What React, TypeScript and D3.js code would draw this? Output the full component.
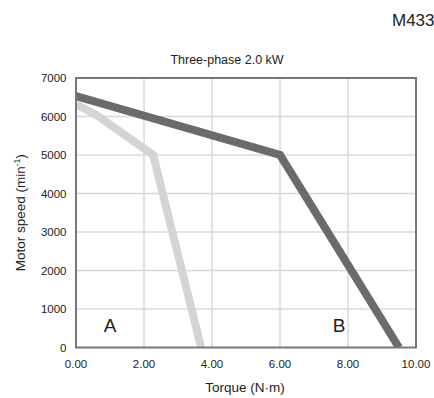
import React from "react";
import * as d3 from "d3";

const xTicks = [0, 2, 4, 6, 8, 10];
const yTicks = [0, 1000, 2000, 3000, 4000, 5000, 6000, 7000];
const curveATorque = [0, 0.6, 2.27, 3.68];
const curveASpeed = [6320, 6040, 5000, 0];
const curveBTorque = [0, 6.0, 9.5];
const curveBSpeed = [6530, 5000, 0];

const W = 434, H = 398;
const left = 76, right = 416, top = 78, bottom = 347.5;

export default function App() {
  const x = d3.scaleLinear().domain([0, 10]).range([left, right]);
  const y = d3.scaleLinear().domain([0, 7000]).range([bottom, top]);
  const line = d3.line<[number, number]>().x(d => x(d[0])).y(d => y(d[1]));
  const a = curveATorque.map((t, i) => [t, curveASpeed[i]] as [number, number]);
  const b = curveBTorque.map((t, i) => [t, curveBSpeed[i]] as [number, number]);
  const font = "Liberation Sans, Arial, sans-serif";
  return (
    <svg width={W} height={H} style={{ position: "absolute", left: 0, top: 0 }} fontFamily={font}>
      <rect width={W} height={H} fill="#fff" />
      <text x={392} y={26} fontSize={17} fill="#222">M433</text>
      <text x={227} y={63.5} fontSize={12.5} textAnchor="middle" fill="#222">Three-phase 2.0 kW</text>
      <defs>
        <clipPath id="plot"><rect x={left} y={top} width={right - left} height={bottom - top} /></clipPath>
      </defs>
      {xTicks.slice(1, -1).map(t => (
        <line key={"gx" + t} x1={x(t)} x2={x(t)} y1={top} y2={bottom} stroke="#d8d8d8" strokeWidth={1.5} />
      ))}
      {yTicks.slice(1, -1).map(t => (
        <line key={"gy" + t} x1={left} x2={right} y1={y(t)} y2={y(t)} stroke="#d8d8d8" strokeWidth={1.5} />
      ))}
      <g clipPath="url(#plot)">
        <path d={line(a) || ""} fill="none" stroke="#d3d4d3" strokeWidth={8} strokeLinejoin="miter" />
        <path d={line(b) || ""} fill="none" stroke="#6b6b6d" strokeWidth={8} strokeLinejoin="miter" />
      </g>
      <rect x={left} y={top} width={right - left} height={bottom - top} fill="none" stroke="#777" strokeWidth={2} />
      {yTicks.map(t => (
        <text key={"yt" + t} x={66.5} y={y(t) + 4} fontSize={11.5} textAnchor="end" fill="#222">{t}</text>
      ))}
      {xTicks.map(t => (
        <text key={"xt" + t} x={x(t)} y={367.5} fontSize={11.5} textAnchor="middle" fill="#222">{t.toFixed(2)}</text>
      ))}
      <text x={245} y={391.5} fontSize={13.5} textAnchor="middle" fill="#222">Torque (N·m)</text>
      <text transform={`translate(24.5,${(top + bottom) / 2}) rotate(-90)`} fontSize={13.5} textAnchor="middle" fill="#222">
        Motor speed (min<tspan dy={-5} fontSize={8.5}>-1</tspan><tspan dy={5}>)</tspan>
      </text>
      <text x={110} y={332} fontSize={19} textAnchor="middle" fill="#222">A</text>
      <text x={339} y={332} fontSize={19} textAnchor="middle" fill="#222">B</text>
    </svg>
  );
}
